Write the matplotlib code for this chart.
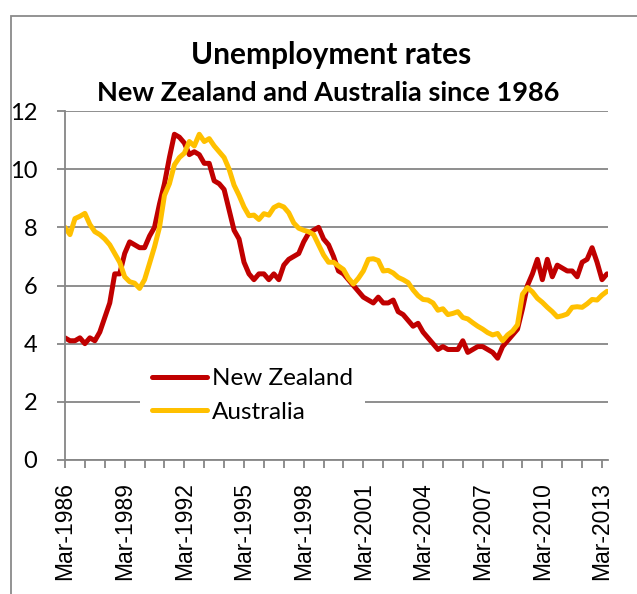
import matplotlib
matplotlib.use("Agg")
import matplotlib.pyplot as plt
import numpy as np

# quarterly unemployment rates (%), Mar-1986 .. Jun-2013
new_zealand = [
    4.2, 4.1, 4.1, 4.2, 4.0, 4.2, 4.1, 4.4, 4.9, 5.4,
    6.4, 6.4, 7.1, 7.5, 7.4, 7.3, 7.3, 7.7, 8.0, 8.8,
    9.5, 10.4, 11.2, 11.1, 10.9, 10.5, 10.6, 10.5, 10.2, 10.2,
    9.6, 9.5, 9.3, 8.6, 7.9, 7.6, 6.8, 6.4, 6.2, 6.4,
    6.4, 6.2, 6.4, 6.2, 6.7, 6.9, 7.0, 7.1, 7.5, 7.8,
    7.9, 8.0, 7.6, 7.4, 7.0, 6.5, 6.4, 6.2, 6.0, 5.8,
    5.6, 5.5, 5.4, 5.6, 5.4, 5.4, 5.5, 5.1, 5.0, 4.8,
    4.6, 4.7, 4.4, 4.2, 4.0, 3.8, 3.9, 3.8, 3.8, 3.8,
    4.1, 3.7, 3.8, 3.9, 3.9, 3.8, 3.7, 3.5, 3.9, 4.1,
    4.3, 4.5, 5.2, 6.0, 6.4, 6.9, 6.2, 6.9, 6.3, 6.7,
    6.6, 6.5, 6.5, 6.3, 6.8, 6.9, 7.3, 6.8, 6.2, 6.4,
]
australia = [
    8.0, 7.75, 8.3, 8.38, 8.48, 8.1, 7.85, 7.75, 7.6, 7.4,
    7.1, 6.8, 6.3, 6.13, 6.08, 5.9, 6.2, 6.76, 7.33, 8.0,
    9.1, 9.5, 10.15, 10.4, 10.55, 10.95, 10.8, 11.2, 10.95, 11.05,
    10.8, 10.6, 10.4, 10.0, 9.45, 9.1, 8.7, 8.4, 8.42, 8.27,
    8.47, 8.42, 8.68, 8.77, 8.7, 8.5, 8.15, 7.97, 7.9, 7.85,
    7.75, 7.4, 7.05, 6.8, 6.8, 6.67, 6.55, 6.25, 6.05, 6.25,
    6.5, 6.9, 6.92, 6.86, 6.5, 6.52, 6.43, 6.28, 6.2, 6.1,
    5.85, 5.65, 5.52, 5.5, 5.4, 5.15, 5.2, 5.0, 5.04, 5.1,
    4.9, 4.85, 4.72, 4.6, 4.5, 4.38, 4.3, 4.35, 4.1, 4.3,
    4.43, 4.65, 5.7, 5.93, 5.78, 5.56, 5.42, 5.25, 5.1, 4.92,
    4.96, 5.02, 5.25, 5.27, 5.25, 5.37, 5.52, 5.5, 5.67, 5.8,
]
tick_labels = ["Mar-1986", "Mar-1989", "Mar-1992", "Mar-1995", "Mar-1998",
               "Mar-2001", "Mar-2004", "Mar-2007", "Mar-2010", "Mar-2013"]

W, H = 637, 594
fig = plt.figure(figsize=(W / 100, H / 100), dpi=100)
ax = fig.add_axes([65 / W, 1 - 460 / H, (608 - 65) / W, (460 - 111) / H])

# chart border (extends past right and bottom edge)
fig.patches.append(plt.Rectangle((11 / W, -0.1), 1.0, 1 - 16 / H + 0.1,
                                 transform=fig.transFigure, fill=False,
                                 edgecolor="#8a8a8a", lw=1.3))

x = np.arange(len(new_zealand))
ax.plot(x, new_zealand, color="#C00000", lw=3.6, label="New Zealand",
        solid_joinstyle="round", solid_capstyle="round")
ax.plot(x, australia, color="#FFC000", lw=3.6, label="Australia",
        solid_joinstyle="round", solid_capstyle="round")

grey = "#868686"
ax.set_xlim(0, len(x) - 0.8)
ax.set_ylim(0, 12)
ax.set_yticks(np.arange(0, 13, 2))
ax.yaxis.grid(True, color=grey, lw=1.3)
ax.set_axisbelow(True)

ax.set_xticks(np.arange(0, len(x), 12))
ax.set_xticklabels(tick_labels, rotation=90, family="Liberation Sans", fontsize=16.5)
ax.set_xticks(np.arange(0, len(x), 4), minor=True)

for s in ["top", "right"]:
    ax.spines[s].set_visible(False)
for s in ["left", "bottom"]:
    ax.spines[s].set_color(grey)
    ax.spines[s].set_linewidth(1.3)
ax.tick_params(axis="both", which="both", color=grey, width=1.3, length=6)
ax.tick_params(axis="x", which="major", pad=10)
ax.tick_params(axis="y", labelsize=17, pad=14)
for lab in ax.get_yticklabels():
    lab.set_family("Lato")

leg = ax.legend(loc="upper left", bbox_to_anchor=((140 - 65) / (608 - 65), (460 - 356) / (460 - 111)),
                frameon=True, facecolor="white", edgecolor="none", framealpha=1,
                fancybox=False, prop={"family": "Lato", "size": 17.5},
                handlelength=2.25, handletextpad=0.2, labelspacing=0.52,
                borderpad=0.5, borderaxespad=0)

fig.text(0.52, 1 - 55 / H, "Unemployment rates", ha="center", va="center",
         family="Lato", weight="bold", fontsize=21.5)
fig.text(0.515, 1 - 93 / H, "New Zealand and Australia since 1986", ha="center", va="center",
         family="Lato", weight="bold", fontsize=19.5)

fig.savefig("out.png", dpi=100)
